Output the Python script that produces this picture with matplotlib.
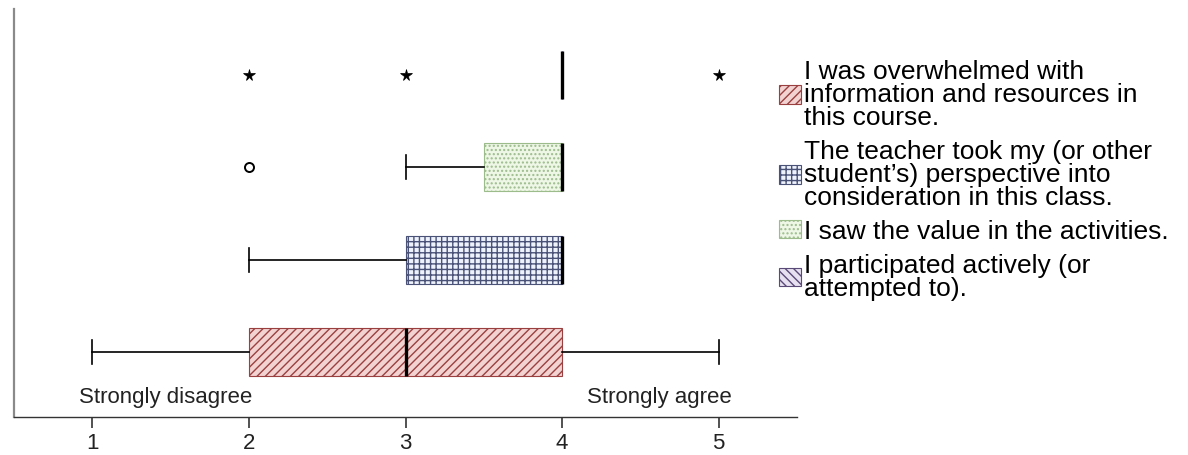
import matplotlib
matplotlib.use("Agg")
import matplotlib.pyplot as plt
from matplotlib.patches import Patch

plt.rcParams['font.family'] = ['Liberation Sans', 'DejaVu Sans']

# ---- data ----
questions = [
    "I was overwhelmed with\ninformation and resources in\nthis course.",
    "The teacher took my (or other\nstudent\u2019s) perspective into\nconsideration in this class.",
    "I saw the value in the activities.",
    "I participated actively (or\nattempted to).",
]
medians = [3, 4, 4, 4]
q1 = [2, 3, 3.5, 4]
q3 = [4, 4, 4, 4]
whislo = [1, 2, 3, 4]
whishi = [5, 4, 4, 4]
fliers = [[], [], [2], [2, 3, 5]]
flier_markers = ['o', 'o', 'o', '*']
x_ticks = [1, 2, 3, 4, 5]
scale_low = "Strongly disagree"
scale_high = "Strongly agree"

# ---- styles ----
face_colors = ['#f3d2d2', '#eef2fb', '#eef6e6', '#e6e0f0']
edge_colors = ['#9a4040', '#4a5278', '#9cbc8c', '#5a4a78']
hatches = ['////', '+++', '....', '\\\\\\\\']

fig = plt.figure(figsize=(11.88, 4.56), dpi=100)
ax = fig.add_axes([14 / 1188, 38 / 456, 783 / 1188, 408 / 456])

stats = []
for i in range(len(questions)):
    stats.append(dict(med=medians[i], q1=q1[i], q3=q3[i],
                      whislo=whislo[i], whishi=whishi[i],
                      fliers=fliers[i], label=questions[i]))

positions = list(range(1, len(questions) + 1))
bp = ax.bxp(stats, positions=positions, widths=0.52, vert=False,
            patch_artist=True, showfliers=True,
            medianprops=dict(color='black', linewidth=2.4),
            whiskerprops=dict(color='black', linewidth=1.2),
            capprops=dict(color='black', linewidth=1.2),
            flierprops=dict(marker='o', markersize=6.5, markerfacecolor='none',
                            markeredgecolor='black', markeredgewidth=1.4,
                            linestyle='none'))

for box, fc, ec, h in zip(bp['boxes'], face_colors, edge_colors, hatches):
    box.set_facecolor(fc)
    box.set_edgecolor(ec)
    box.set_hatch(h)
    box.set_linewidth(0.8)

for fl, m in zip(bp['fliers'], flier_markers):
    fl.set_marker(m)
    if m == '*':
        fl.set_markerfacecolor('black')
        fl.set_markeredgewidth(0.5)
        fl.set_markersize(8.5)

ax.set_xlim(0.5, 5.5)
ax.set_ylim(0.296, 4.715)
ax.set_xticks(x_ticks)
ax.set_xticklabels([str(t) for t in x_ticks])
ax.set_yticks([])
ax.tick_params(axis='x', direction='out', length=8, width=1.2, color='#333333',
               labelsize=16, labelcolor='#222222', pad=3)

for s in ['top', 'right']:
    ax.spines[s].set_visible(False)
ax.spines['left'].set_color('#8a8a8a')
ax.spines['left'].set_linewidth(1.6)
ax.spines['bottom'].set_color('#333333')
ax.spines['bottom'].set_linewidth(1.0)

ax.text(0.917, 0.52, scale_low, ha='left', va='center', fontsize=16, color='#222222')
ax.text(5.083, 0.52, scale_high, ha='right', va='center', fontsize=16, color='#222222')

handles = [Patch(facecolor=fc, edgecolor=ec, hatch=h, linewidth=0.8)
           for fc, ec, h in zip(face_colors, edge_colors, hatches)]
leg = fig.legend(handles, questions, loc='upper left',
                 bbox_to_anchor=(779 / 1188, 1 - 60 / 456),
                 frameon=False, fontsize=19, borderpad=0, borderaxespad=0,
                 handlelength=0.85, handleheight=0.7, handletextpad=0.1,
                 labelspacing=0.38)
for t in leg.get_texts():
    t.set_linespacing(0.95)

fig.savefig('out.png', dpi=100)
